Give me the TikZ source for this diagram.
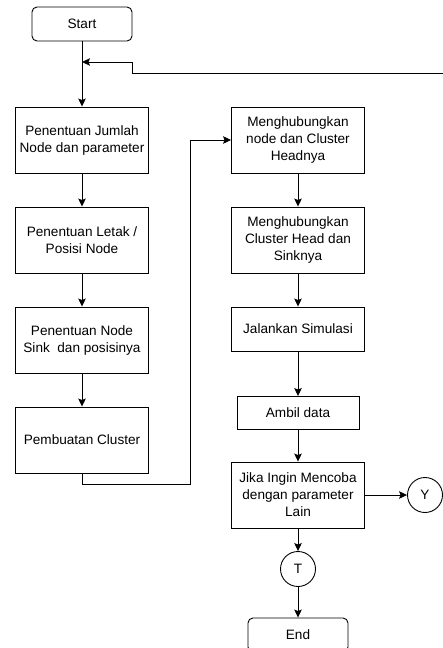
\documentclass[tikz,border=0pt]{standalone}
\usepackage{fontspec}
\setmainfont{Liberation Sans}
\usetikzlibrary{arrows.meta}
\tikzset{
  proc/.style={draw, line width=0.9pt, minimum width=133pt, minimum height=66pt,
    align=center, inner sep=2pt},
  term/.style={draw, line width=0.9pt, rounded corners=5pt, minimum width=100pt,
    minimum height=34pt},
  conn/.style={draw, circle, line width=0.9pt, minimum size=35pt, inner sep=0pt},
}
\begin{document}
\begin{tikzpicture}[x=1pt, y=-1pt, >={Stealth[length=8pt,width=7.5pt,inset=1.5pt]},
    line width=0.9pt, font=\fontsize{13.6}{17}\selectfont]
    \def\xa{82}
    \def\xb{298}
    \useasboundingbox (0,0) rectangle (443,648);
    % left column
    \node [term] (S) at (\xa, 24) {Start};
    \node [proc] (A0_0) at (\xa, 140) {Penentuan Jumlah\\Node dan parameter};
    \node [proc] (A1_0) at (\xa, 240) {Penentuan Letak /\\Posisi Node};
    \node [proc] (A2_0) at (\xa, 340) {Penentuan Node\\Sink\ \ dan posisinya};
    \node [proc] (A3_0) at (\xa, 440) {Pembuatan Cluster};
    % right column
    \node [proc] (A0_1) at (\xb, 140) {Menghubungkan\\node dan Cluster\\Headnya};
    \node [proc] (A1_1) at (\xb, 240) {Menghubungkan\\Cluster Head dan\\Sinknya};
    \node [proc, minimum height=44pt] (A2_1) at (\xb, 329) {Jalankan Simulasi};
    \node [proc, minimum width=122pt, minimum height=33pt] (A3_1) at (\xb, 413) {Ambil data};
    \node [proc] (A4_1) at (\xb, 495) {Jika Ingin Mencoba\\dengan parameter\\Lain};
    \node [conn] (Y) at (425, 495) {Y};
    \node [conn] (T) at (\xb, 569) {T};
    \node [term] (E) at (\xb, 635) {End};
    \coordinate (J) at (\xa, 62);
    \coordinate (back) at (450, 73);
    \path (S) edge [->] (A0_0);
    \path (A0_0) edge [->] (A1_0);
    \path (A1_0) edge [->] (A2_0);
    \path (A2_0) edge [->] (A3_0);
    \draw [->] (A3_0.south) |- (190, 484) |- (A0_1.west);
    \path (A0_1) edge [->] (A1_1);
    \path (A1_1) edge [->] (A2_1);
    \path (A2_1) edge [->] (A3_1);
    \path (A3_1) edge [->] (A4_1);
    \path (A4_1) edge [->] (Y);
    \path (A4_1) edge [->] (T);
    \path (T) edge [->] (E);
    % loop back
    \draw [->] (back) -| (132, 62) -- (J);
\end{tikzpicture}
\end{document}
